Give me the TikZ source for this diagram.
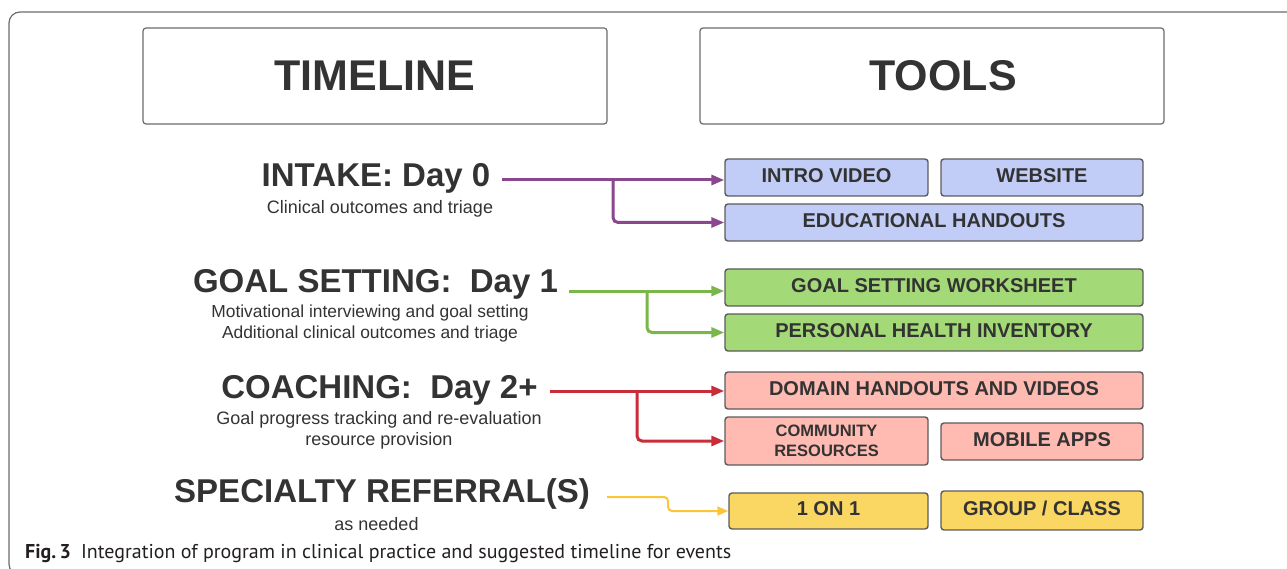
\documentclass[tikz,border=0pt]{standalone}
\usepackage{fontspec}
\setmainfont{Liberation Sans}
\newfontfamily\capfont{PT Sans}
\usetikzlibrary{arrows.meta}
\definecolor{txt}{HTML}{333333}
\definecolor{bluef}{HTML}{C1CDF6}
\definecolor{greenf}{HTML}{A3D977}
\definecolor{redf}{HTML}{FFBAB2}
\definecolor{yelf}{HTML}{FAD662}
\definecolor{boxline}{HTML}{5C5C5C}
\definecolor{purp}{HTML}{8A478E}
\definecolor{grn}{HTML}{7AB648}
\definecolor{rd}{HTML}{C92D39}
\definecolor{yl}{HTML}{FCC438}
\definecolor{framec}{HTML}{6B6B6B}
\definecolor{captxt}{HTML}{231F20}
\tikzset{
  hdrbox/.style={draw=framec, line width=1.2pt, rounded corners=3pt, minimum width=464pt, minimum height=96pt, text=txt, font=\fontsize{43}{43}\selectfont\bfseries, inner sep=0pt},
  toolbox/.style={draw=boxline, line width=1.4pt, rounded corners=3pt, minimum height=37pt, text=txt, font=\fontsize{20}{20}\selectfont\bfseries, inner sep=0pt, align=center, text height=14pt, text depth=4.5pt},
  head/.style={text=txt, font=\fontsize{33}{33}\selectfont\bfseries, inner sep=0pt, anchor=base},
  sub/.style={text=txt, font=\fontsize{18}{18}\selectfont, inner sep=0pt, anchor=base},
  conn/.style={line width=3pt, rounded corners=5pt, -{Triangle[length=13pt,width=10pt]}},
  thinconn/.style={line width=2pt, rounded corners=4pt, -{Triangle[length=11pt,width=9pt]}},
}
\begin{document}
\begin{tikzpicture}[x=1pt,y=-1pt]
\useasboundingbox (0,0) rectangle (1287,569);
\clip (0,0) rectangle (1287,569);
\draw[framec, line width=1.2pt, rounded corners=11pt] (9,12) rectangle (1330,575);

% header boxes
\node[hdrbox] (timeline) at (375,76) {TIMELINE};
\node[hdrbox] (tools) at (932,76) {\hspace*{22pt}TOOLS};

% timeline headings
\node[head] (intake) at (376,187) {INTAKE: Day 0};
\node[sub] (intakes) at (380,214) {Clinical outcomes and triage};
\node[head] (goal) at (375.5,292) {GOAL SETTING:\ \ Day 1};
\node[sub, font=\fontsize{17.4}{17.4}\selectfont] (goals1) at (370,317) {Motivational interviewing and goal setting};
\node[sub, font=\fontsize{17.4}{17.4}\selectfont] (goals2) at (370,338) {Additional clinical outcomes and triage};
\node[head] (coach) at (379.5,398) {COACHING:\ \ Day 2+};
\node[sub] (coachs1) at (379,424) {Goal progress tracking and re-evaluation};
\node[sub] (coachs2) at (379,445) {resource provision};
\node[head] (spec) at (382,502) {SPECIALTY REFERRAL(S)};
\node[sub] (specs) at (376.5,530) {as needed};

% tool boxes
\node[toolbox, fill=bluef, minimum width=203pt] (intro) at (826.5,177.5) {INTRO VIDEO};
\node[toolbox, fill=bluef, minimum width=202pt] (web) at (1042,177.5) {WEBSITE};
\node[toolbox, fill=bluef, minimum width=418pt] (edu) at (934,222.5) {EDUCATIONAL HANDOUTS};
\node[toolbox, fill=greenf, minimum width=418pt] (gsw) at (934,287.5) {GOAL SETTING WORKSHEET};
\node[toolbox, fill=greenf, minimum width=418pt] (phi) at (934,332.5) {PERSONAL HEALTH INVENTORY};
\node[toolbox, fill=redf, minimum width=418pt] (dom) at (934,390.5) {DOMAIN HANDOUTS AND VIDEOS};
\node[toolbox, fill=redf, minimum width=203pt, minimum height=48pt, font=\fontsize{16.5}{20}\selectfont\bfseries, text height={}, text depth={}] (comm) at (826.5,441) {COMMUNITY\\RESOURCES};
\node[toolbox, fill=redf, minimum width=202pt] (mob) at (1042,441.5) {MOBILE APPS};
\node[toolbox, fill=yelf, minimum width=199pt, minimum height=36pt] (one) at (828.5,511) {1 ON 1};
\node[toolbox, fill=yelf, minimum width=202pt, minimum height=39pt] (grp) at (1042,510.5) {GROUP / CLASS};

% connectors
\coordinate (s1) at (502,180);
\coordinate (b1) at (613,180);
\draw[conn, purp] (s1) -- (s1 -| intro.west);
\draw[conn, purp] (b1) |- (edu.west);

\coordinate (s2) at (569,291);
\coordinate (b2) at (647,291);
\draw[conn, grn] (s2) -- (s2 -| gsw.west);
\draw[conn, grn] (b2) |- (phi.west);

\coordinate (s3) at (550,391);
\coordinate (b3) at (637,391);
\draw[conn, rd] (s3) -- (s3 -| dom.west);
\draw[conn, rd] (b3) |- (comm.west);

\coordinate (s4) at (607,497);
\coordinate (k4) at (668,497);
\draw[thinconn, yl] (s4) -- (k4) |- (one.west);

% caption
\node[anchor=base west, inner sep=0pt, text=captxt, font=\capfont\fontsize{20}{20}\selectfont] (cap) at (25,558) {\textbf{Fig.\,3}\hspace{10pt}Integration of program in clinical practice and suggested timeline for events};
\end{tikzpicture}
\end{document}
